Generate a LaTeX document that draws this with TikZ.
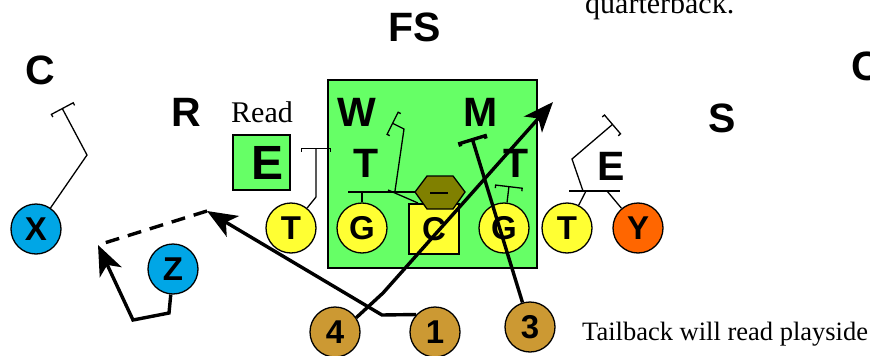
\documentclass[tikz,border=0pt]{standalone}
\usepackage{fontspec}
\setmainfont{Liberation Serif}
\setsansfont{Liberation Sans}
\usetikzlibrary{positioning, arrows.meta, shapes.geometric}

\definecolor{zonegreen}{RGB}{102,255,102}
\definecolor{lineyellow}{RGB}{255,255,51}
\definecolor{wrblue}{RGB}{0,166,230}
\definecolor{teorange}{RGB}{255,102,0}
\definecolor{backgold}{RGB}{204,153,51}
\definecolor{qbolive}{RGB}{128,128,0}

\tikzset{
  player/.style={circle, draw, line width=1.3pt, minimum size=50pt, inner sep=0pt,
    font=\sffamily\bfseries\fontsize{33}{33}\selectfont},
  lineman/.style={player, fill=lineyellow},
  wideout/.style={player, fill=wrblue},
  runback/.style={player, fill=backgold},
  defender/.style={inner sep=0pt, font=\sffamily\bfseries\fontsize{41}{41}\selectfont},
  route/.style={line width=1.3pt},
  runpath/.style={line width=3.4pt},
  blockbar/.style={-{Bracket[width=#1,length=3pt]}},
  blockbar/.default=26pt,
  bighead/.style={-{Stealth[length=30pt,width=24pt,inset=8pt]}},
  note/.style={inner sep=0pt, anchor=base west, font=\fontsize{#1}{#1}\selectfont}
}

\begin{document}
\begin{tikzpicture}[x=1pt, y=-1pt]
		\useasboundingbox (0,0) rectangle (870,356);
		
		%// read zone and read key
		\node [draw, fill=zonegreen, line width=1.3pt, minimum width=209pt, minimum height=188pt] (zone) at (432.5,174) {};
		\node [draw, fill=zonegreen, line width=1.3pt, minimum width=57pt, minimum height=55pt] (readbox) at (261.5,162.5) {};
		\node [defender, font=\sffamily\bfseries\fontsize{48}{48}\selectfont] (readend) at (268,163) {E};
		\node [inner sep=0pt, font=\fontsize{30}{30}\selectfont] (read) at (262,112) {Read};
		
		%// defense
		\node [defender] (fs) at (415,27) {FS};
		\node [defender] (cbl) at (40,70) {C};
		\node [defender] (cbr) at (866,66) {C};
		\node [defender] (rov) at (186,112) {R};
		\node [defender] (ss) at (722,118) {S};
		\node [defender] (will) at (357,112) {W};
		\node [defender] (mike) at (481,112) {M};
		\node [defender] (dtl) at (366,163) {T};
		\node [defender] (dtr) at (516,163) {T};
		\node [defender] (dend) at (611,166) {E};
		
		%// offensive line
		\node [lineman] (lt) at (291,228) {T};
		\node [lineman] (lg) at (362,228) {G};
		\node [lineman, rectangle, minimum size=50pt] (ctr) at (434,229) {C};
		\node [lineman] (rg) at (504,228) {G};
		\node [lineman] (rt) at (567,228) {T};
		\node [player, fill=teorange] (te) at (638,228) {Y};
		\draw [fill=qbolive, line width=1.3pt] (415,192) -- (427,176) -- (453,176) -- (465,192) -- (453,209) -- (427,209) -- cycle;
		\draw [line width=1.3pt] (430,193) -- (448,193);
		
		%// backs and receivers
		\node [wideout] (xrec) at (36,229) {X};
		\node [wideout] (zrec) at (173,269) {Z};
		\node [runback] (b4) at (335,332) {4};
		\node [runback] (b1) at (435,332) {1};
		\node [runback] (b3) at (530,327) {3};
		
		\coordinate (catch) at (207,211);
		\coordinate (pitch) at (98,245);
		
		%// blocks
		\draw [route, blockbar] (xrec) -- (87,155) -- (62,108);
		\draw [route, blockbar=30pt] (lt) -- (316,197) -- (316,148);
		\draw [route] (lg) -- (362,192);
		\draw [route] (348,192) -- (415,192);
		\draw [route] (388,190) -- (418,203);
		\draw [route, blockbar] (395,191) -- (404,129) -- (392,123);
		\draw [route, blockbar=28pt] (rg) -- (509,186);
		\draw [route] (569,191) -- (620,191);
		\draw [route] (rt) -- (586,191);
		\draw [route] (te) -- (607,191);
		\draw [route, blockbar] (583,191) -- (572,159) -- (613,124);
		\draw [runpath, blockbar=30pt] (b3) -- (472,138);
		
		%// runs
		\draw [runpath, bighead] (b4.34) -- (383,293) -- (553,102);
		\draw [runpath, bighead] (b1.137) -- (382,315) -- (catch);
		\draw [runpath, dash pattern=on 14pt off 9pt] (catch) -- (pitch);
		\draw [runpath, bighead] (zrec.265) -- (169,313) -- (133,320) -- (pitch);
		
		%// text
		\node [note=30] (qbtext) at (585,13) {quarterback.};
		\node [note=26.5] (tbtext) at (582,340) {Tailback will read playside};
		\end{tikzpicture}
\end{document}
